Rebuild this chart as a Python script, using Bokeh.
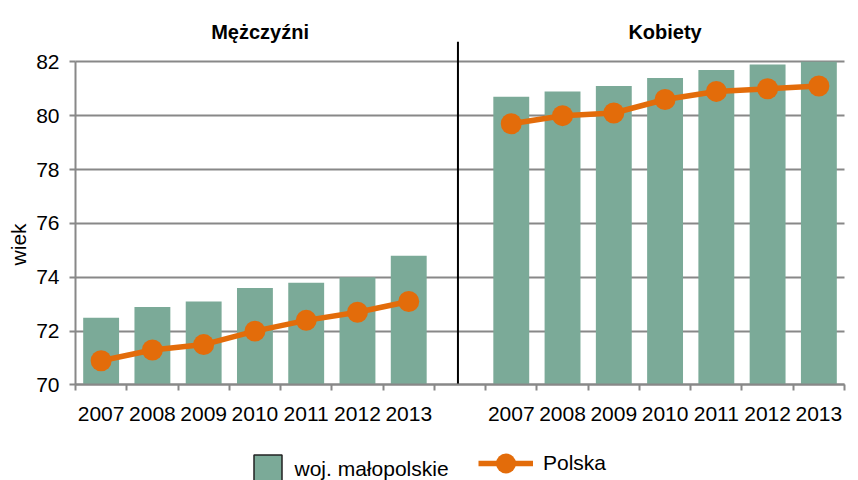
import math
from bokeh.plotting import figure
from bokeh.models import (Range1d, FixedTicker, Label, Legend, LegendItem,
                          ColumnDataSource)
from bokeh.embed import file_html
from bokeh.resources import INLINE

# ---- data ----
years = ["2007", "2008", "2009", "2010", "2011", "2012", "2013"]
groups = ["Mężczyźni", "Kobiety"]
men_region = [72.5, 72.9, 73.1, 73.6, 73.8, 74.0, 74.8]
men_poland = [70.9, 71.3, 71.5, 72.0, 72.4, 72.7, 73.1]
women_region = [80.7, 80.9, 81.1, 81.4, 81.7, 81.9, 82.0]
women_poland = [79.7, 80.0, 80.1, 80.6, 80.9, 81.0, 81.1]
y_ticks = [70, 72, 74, 76, 78, 80, 82]
region_label = "woj. małopolskie"
poland_label = "Polska"
y_label = "wiek"

BAR = "#7BAA98"
ORANGE = "#E36C0A"
GRID = "#888888"
FONT = "Liberation Sans"
FS = "21px"

n = len(years)
x_men = list(range(n))
x_women = [n + 1 + i for i in range(n)]
total = 2 * n + 1
y0, y1 = y_ticks[0], y_ticks[-1]

# frame covers the whole canvas; axes are placed at fixed data locations
p = figure(width=858, height=480, output_backend="svg", toolbar_location=None,
           x_range=Range1d(-1.963, 14.773), y_range=Range1d(66.454, 84.276),
           min_border=0)
p.outline_line_color = None
p.background_fill_color = "white"

src_m = ColumnDataSource(dict(x=x_men, region=men_region, poland=men_poland))
src_w = ColumnDataSource(dict(x=x_women, region=women_region, poland=women_poland))

p.vbar(x="x", top="region", bottom=y0, width=0.7, source=src_m,
       fill_color=BAR, line_color=None)
p.vbar(x="x", top="region", bottom=y0, width=0.7, source=src_w,
       fill_color=BAR, line_color=None)
# legend-only swatch (outlined, like the reference key); NaN -> not drawn in plot
key_src = ColumnDataSource(dict(x=[float("nan")], top=[y0]))
key_bar = p.vbar(x="x", top="top", bottom=y0, width=0.7, source=key_src,
                 fill_color=BAR, line_color="#222222", line_width=1.5)

line_m = p.line(x="x", y="poland", source=src_m, line_color=ORANGE, line_width=5.5)
dots_m = p.scatter(x="x", y="poland", source=src_m, size=21, fill_color=ORANGE,
                   line_color=None)
p.line(x="x", y="poland", source=src_w, line_color=ORANGE, line_width=5.5)
p.scatter(x="x", y="poland", source=src_w, size=21, fill_color=ORANGE,
          line_color=None)

# divider between groups
p.segment(x0=[n - 0.04], y0=[y0], x1=[n - 0.04], y1=[82.74],
          line_color="black", line_width=2)

# axes
centers = x_men + x_women
bounds = [i - 0.5 for i in range(total + 1)]
p.xaxis.fixed_location = y0
p.xaxis.bounds = (-0.5, total - 0.5)
p.xaxis.ticker = FixedTicker(ticks=centers, minor_ticks=bounds)
p.xaxis.major_label_overrides = {c: years[i % n] for i, c in enumerate(centers)}
p.xaxis.major_tick_line_color = None
p.xaxis.major_tick_out = 0
p.xaxis.minor_tick_out = 6
p.xaxis.minor_tick_in = 0
p.xaxis.minor_tick_line_color = GRID
p.xaxis.minor_tick_line_width = 2
p.xaxis.major_label_standoff = 16

p.yaxis.fixed_location = -0.5
p.yaxis.ticker = FixedTicker(ticks=y_ticks)
p.yaxis.bounds = (y0, y1)
p.yaxis.major_tick_out = 6
p.yaxis.major_tick_in = 0
p.yaxis.major_tick_line_color = GRID
p.yaxis.major_tick_line_width = 2
p.yaxis.minor_tick_line_color = None
p.yaxis.major_label_standoff = 10

for ax in (p.xaxis, p.yaxis):
    ax.axis_line_color = GRID
    ax.axis_line_width = 2
    ax.major_label_text_font = FONT
    ax.major_label_text_font_size = FS
    ax.major_label_text_color = "black"

p.xgrid.visible = False
g = p.ygrid[0]
g.ticker = FixedTicker(ticks=y_ticks)
g.grid_line_color = GRID
g.grid_line_width = 2
g.cross_bounds = (-0.5, total - 0.5)

# titles
for gx, txt in ((3.1, groups[0]), (11.0, groups[1])):
    p.add_layout(Label(x=gx, y=83.09, text=txt, text_align="center",
                       text_baseline="alphabetic", text_font=FONT,
                       text_font_size="20px", text_font_style="bold",
                       text_color="black"))

p.add_layout(Label(x=-1.61, y=75.22, text=y_label, angle=math.pi / 2,
                   text_align="center", text_baseline="middle", text_font=FONT,
                   text_font_size=FS, text_color="black"))

# legends
leg1 = Legend(items=[LegendItem(label=region_label, renderers=[key_bar])],
              location=(249.5, -6), glyph_width=35, glyph_height=35,
              padding=0, margin=0, spacing=0, label_standoff=10,
              border_line_color=None, background_fill_alpha=0,
              label_text_font=FONT, label_text_font_size=FS,
              label_text_color="black")
leg2 = Legend(items=[LegendItem(label=poland_label, renderers=[line_m, dots_m])],
              location=(478, -8), glyph_width=55, glyph_height=50,
              padding=0, margin=0, spacing=0, label_standoff=10,
              border_line_color=None, background_fill_alpha=0,
              label_text_font=FONT, label_text_font_size=FS,
              label_text_color="black")
p.add_layout(leg1, "center")
p.add_layout(leg2, "center")

open("out.html", "w").write(file_html(p, INLINE))
